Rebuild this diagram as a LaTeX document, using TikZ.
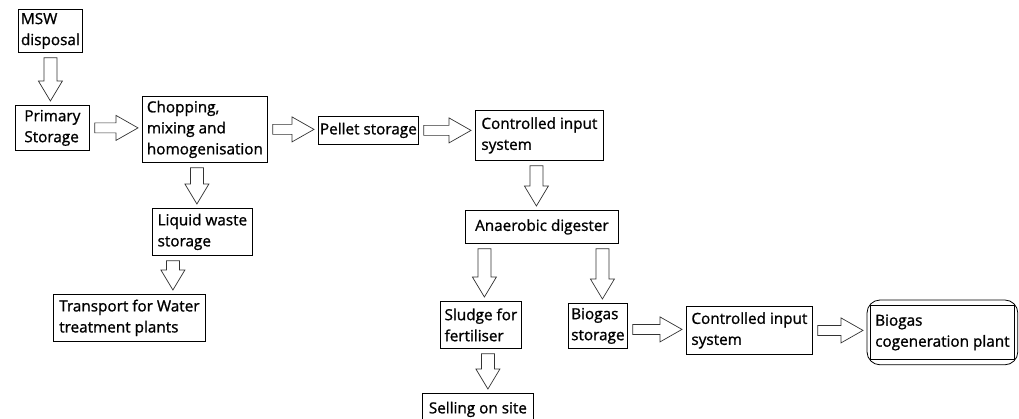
\documentclass[tikz,border=0pt]{standalone}
\usepackage{fontspec}
\setmainfont{Open Sans}
\newfontfamily\boxfont{Open Sans}[FakeBold=1.1]
\usetikzlibrary{calc}

\tikzset{
  arrowdown/.style={draw=black!80, line width=0.7pt, fill=white,
    to path={let \p1=(\tikztostart), \p2=(\tikztotarget) in
      (\x1-6.5pt,\y1-5pt) -- (\x1+6.5pt,\y1-5pt) -- (\x1+6.5pt,\y2+24pt)
      -- (\x1+12pt,\y2+24pt) -- (\x1,\y2+4pt) -- (\x1-12pt,\y2+24pt)
      -- (\x1-6.5pt,\y2+24pt) -- cycle}},
  arrowright/.style={draw=black!80, line width=0.7pt, fill=white,
    to path={let \p1=(\tikztostart), \p2=(\tikztotarget) in
      (\x1+5pt,\y1+5pt) -- (\x2-26pt,\y1+5pt) -- (\x2-26pt,\y1+12.5pt)
      -- (\x2-4pt,\y1) -- (\x2-26pt,\y1-12.5pt) -- (\x2-26pt,\y1-5pt)
      -- (\x1+5pt,\y1-5pt) -- cycle}}
}

\begin{document}
\begin{tikzpicture}
      [x=1pt,y=-1pt,every node/.style={draw=black,line width=0.8pt,align=left,
        inner sep=1pt,anchor=north west,font=\boxfont\fontsize{15.3}{21}\selectfont}]
      \useasboundingbox (0,0) rectangle (1019,419);

      % first line
      \node[minimum width=64pt, minimum height=43pt] (msw) at (18,9) {MSW\\disposal};
      \node[minimum width=74pt, minimum height=45pt] (prim) at (15,105) {Primary\\Storage};
      \node[minimum width=125pt, minimum height=66pt] (chop) at (142,96) {Chopping,\\mixing and\\homogenisation};
      \node[minimum width=100pt, minimum height=28pt] (pellet) at (318,116) {Pellet storage};
      \node[minimum width=128pt, minimum height=50pt] (ctrl) at (475,110) {Controlled input\\system};

      % liquid branch
      \node[minimum width=100pt, minimum height=47pt] (liquid) at (152,208) {Liquid waste\\storage};
      \node[minimum width=152pt, minimum height=47pt] (transp) at (53,294) {Transport for Water\\treatment plants};

      % digester and products
      \node[minimum width=153pt, minimum height=33pt] (dig) at (465,210) {Anaerobic digester};
      \node[minimum width=81pt, minimum height=47pt] (sludge) at (440,301) {Sludge for\\fertiliser};
      \node[minimum width=111pt, minimum height=32pt] (selling) at (422,393) {Selling on site};
      \node[minimum width=59pt, minimum height=45pt] (storage) at (568,303) {Biogas\\storage};
      \node[minimum width=126pt, minimum height=48pt] (ctrltwo) at (686,306) {Controlled input\\system};
      \node[minimum width=144pt, minimum height=54pt] (cogen) at (870,305) {Biogas\\cogeneration plant};
      \draw[line width=0.8pt, rounded corners=13pt] ([shift={(-3pt,5pt)}]cogen.north west)
        rectangle ([shift={(3pt,-5pt)}]cogen.south east);

      % block arrows
      \draw[arrowdown] (msw.south) to (prim.north);
      \draw[arrowright] (prim.east) to (chop.west);
      \draw[arrowright] (chop.east) to (pellet.west);
      \draw[arrowright] (pellet.east) to (ctrl.west);
      \draw[arrowdown] ([xshift=-8pt]chop.south) to (liquid.north);
      \draw[arrowdown] ([xshift=-29.5pt]liquid.south) to (transp.north);
      \draw[arrowdown] ([xshift=-3pt]ctrl.south) to (dig.north);
      \draw[arrowdown] ([xshift=-57.5pt]dig.south) to (sludge.north);
      \draw[arrowdown] ([xshift=60.5pt]dig.south) to (storage.north);
      \draw[arrowdown] ([xshift=7pt]sludge.south) to (selling.north);
      \draw[arrowright] ([yshift=-3.5pt]storage.east) to (ctrltwo.west);
      \draw[arrowright] (ctrltwo.east) to ([xshift=-3pt]cogen.west);
\end{tikzpicture}
\end{document}
